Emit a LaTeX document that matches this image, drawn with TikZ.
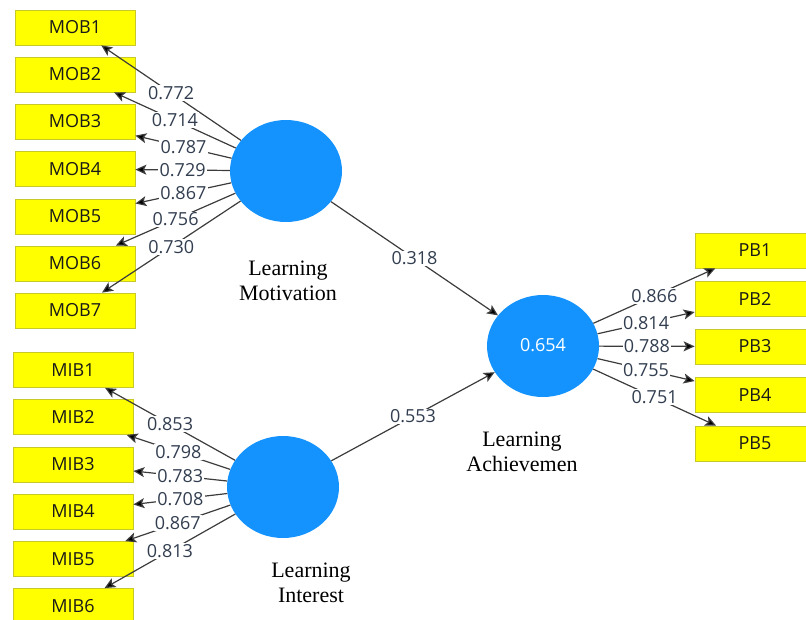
\documentclass[tikz,border=0pt]{standalone}
\usepackage{fontspec}
\setmainfont{Liberation Serif}
\newfontfamily\uifont{Open Sans}
\usetikzlibrary{shapes.geometric,arrows.meta}
\definecolor{boxyellow}{RGB}{255,255,0}
\definecolor{boxedge}{RGB}{200,200,40}
\definecolor{lvblue}{RGB}{20,147,255}
\definecolor{lblcol}{RGB}{50,62,80}
\definecolor{linecol}{RGB}{60,60,60}
\begin{document}
\begin{tikzpicture}[x=1pt,y=-1pt,
  ind/.style={rectangle, draw=boxedge, line width=0.8pt, fill=boxyellow, minimum width=120pt, minimum height=35pt, inner sep=0pt, font=\uifont\fontsize{18}{21}\selectfont, text=black!90},
  lv/.style={ellipse, fill=lvblue, minimum width=112pt, minimum height=102pt, inner sep=0pt, text=white, font=\uifont\fontsize{18}{21}\selectfont},
  conn/.style={draw=linecol, line width=1.2pt, -{Stealth[length=11pt,width=10pt,inset=2.5pt,fill=black]}},
  wt/.style={fill=white, inner sep=1.2pt, text=lblcol, font=\uifont\fontsize{18}{21}\selectfont},
  lvcap/.style={align=center, font=\fontsize{22}{25}\selectfont}]
\useasboundingbox (0,0) rectangle (806,619);

% indicators
\node[ind] (MOB1) at (75,27.5) {MOB1};
\node[ind] (MOB2) at (75,74.5) {MOB2};
\node[ind] (MOB3) at (75,121.5) {MOB3};
\node[ind] (MOB4) at (75,169) {MOB4};
\node[ind] (MOB5) at (75,216.5) {MOB5};
\node[ind] (MOB6) at (75,263.5) {MOB6};
\node[ind] (MOB7) at (75,310.5) {MOB7};

\node[ind] (MIB1) at (73,370) {MIB1};
\node[ind] (MIB2) at (73,417) {MIB2};
\node[ind] (MIB3) at (73,464.5) {MIB3};
\node[ind] (MIB4) at (73,511.5) {MIB4};
\node[ind] (MIB5) at (73,559) {MIB5};
\node[ind] (MIB6) at (73,606) {MIB6};

\node[ind] (PB1) at (755,250.5) {PB1};
\node[ind] (PB2) at (755,298.5) {PB2};
\node[ind] (PB3) at (755,346.5) {PB3};
\node[ind] (PB4) at (755,395) {PB4};
\node[ind] (PB5) at (755,443.5) {PB5};

% latent variables
\node[lv] (LM) at (286,171) {};
\node[lv] (LI) at (283,487) {};
\node[lv] (LA) at (543,346) {\raisebox{3pt}{0.654}};

\node[lvcap] (LMc) at (288,281) {Learning\\Motivation};
\node[lvcap] (LIc) at (311,583) {Learning\\Interest};
\node[lvcap] (LAc) at (522,452) {Learning\\Achievemen};

% outer loadings
\draw[conn] (LM) -- node[wt]{0.772} (MOB1);
\draw[conn] (LM) -- node[wt]{0.714} (MOB2);
\draw[conn] (LM) -- node[wt]{0.787} (MOB3);
\draw[conn] (LM) -- node[wt]{0.729} (MOB4);
\draw[conn] (LM) -- node[wt]{0.867} (MOB5);
\draw[conn] (LM) -- node[wt]{0.756} (MOB6);
\draw[conn] (LM) -- node[wt]{0.730} (MOB7);

\draw[conn] (LI) -- node[wt]{0.853} (MIB1);
\draw[conn] (LI) -- node[wt]{0.798} (MIB2);
\draw[conn] (LI) -- node[wt]{0.783} (MIB3);
\draw[conn] (LI) -- node[wt]{0.708} (MIB4);
\draw[conn] (LI) -- node[wt]{0.867} (MIB5);
\draw[conn] (LI) -- node[wt]{0.813} (MIB6);

\draw[conn] (LA) -- node[wt]{0.866} (PB1);
\draw[conn] (LA) -- node[wt]{0.814} (PB2);
\draw[conn] (LA) -- node[wt]{0.788} (PB3);
\draw[conn] (LA) -- node[wt]{0.755} (PB4);
\draw[conn] (LA) -- node[wt]{0.751} (PB5);

% path coefficients
\draw[conn] (LM) -- node[wt]{0.318} (LA);
\draw[conn] (LI) -- node[wt]{0.553} (LA);
\end{tikzpicture}
\end{document}
